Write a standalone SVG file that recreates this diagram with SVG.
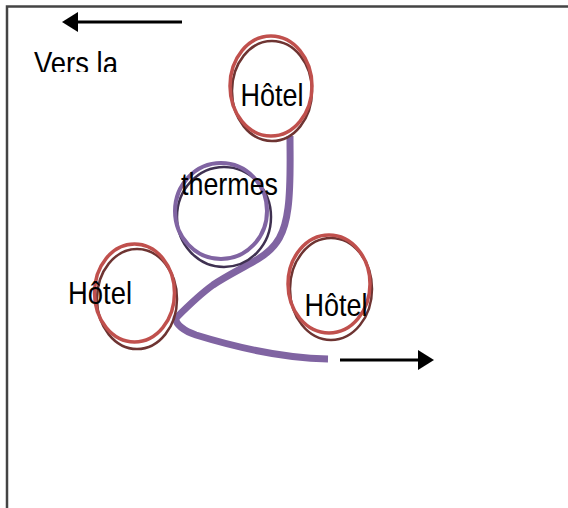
<svg xmlns="http://www.w3.org/2000/svg" width="568" height="508" viewBox="0 0 568 508">
  <style>
    .red{fill:none;stroke:#c0504d;stroke-width:3.5}
    .darkred{fill:none;stroke:#6e3432;stroke-width:2.5}
    .purple{fill:none;stroke:#8064a2;stroke-width:4}
    .darkpurple{fill:none;stroke:#3f3151;stroke-width:2.5}
    .flow{fill:none;stroke:#8064a2;stroke-width:7;stroke-linecap:butt;stroke-linejoin:round}
    .arrow{stroke:#000;stroke-width:3;fill:none}
    .head{fill:#000}
    text{font-family:"Liberation Sans",Arial,sans-serif;font-size:32px;fill:#000}
  </style>
  <defs>
    <clipPath id="clipVers"><rect x="20" y="40" width="120" height="32"/></clipPath>
  </defs>
  <rect width="568" height="508" fill="#fff"/>
  <path id="frame" d="M7 508V6.500H568" fill="none" stroke="#444" stroke-width="2.500"/>
  <g id="connectors">
    <path class="flow" d="M290 136C290 160 291 185 288 208C285 232 278 247 258 259C243 268 228 275 213 285C199 295 186 308 176 318C175 324 184 331 196 335C235 347 280 358 328 359"/>
    <path class="arrow" d="M182 22H76"/>
    <polygon class="head" points="62,22 78,12 78,32"/>
    <path class="arrow" d="M340 360H420"/>
    <polygon class="head" points="434,360 418,350 418,370"/>
  </g>
  <g id="label-vers"><text x="34" y="74" textLength="84" lengthAdjust="spacingAndGlyphs" clip-path="url(#clipVers)">Vers la</text></g>
  <g id="hotel-top">
    <ellipse class="darkred" cx="272" cy="91" rx="40" ry="50"/>
    <ellipse class="red" cx="271" cy="86" rx="41" ry="50"/>
    <text x="240.500" y="106" textLength="63" lengthAdjust="spacingAndGlyphs">Hôtel</text>
  </g>
  <g id="thermes">
    <ellipse class="darkpurple" cx="224" cy="217" rx="47" ry="50"/>
    <ellipse class="purple" cx="221" cy="211" rx="46" ry="48"/>
    <text x="181" y="195" textLength="97" lengthAdjust="spacingAndGlyphs">thermes</text>
  </g>
  <g id="hotel-left">
    <ellipse class="darkred" cx="137" cy="299" rx="40" ry="50"/>
    <ellipse class="red" cx="134.500" cy="293" rx="40" ry="49"/>
    <text x="68" y="304" textLength="64" lengthAdjust="spacingAndGlyphs">Hôtel</text>
  </g>
  <g id="hotel-right">
    <ellipse class="darkred" cx="331" cy="289" rx="41" ry="51"/>
    <ellipse class="red" cx="329" cy="284" rx="41" ry="49"/>
    <text x="304.500" y="316" textLength="63" lengthAdjust="spacingAndGlyphs">Hôtel</text>
  </g>
</svg>
